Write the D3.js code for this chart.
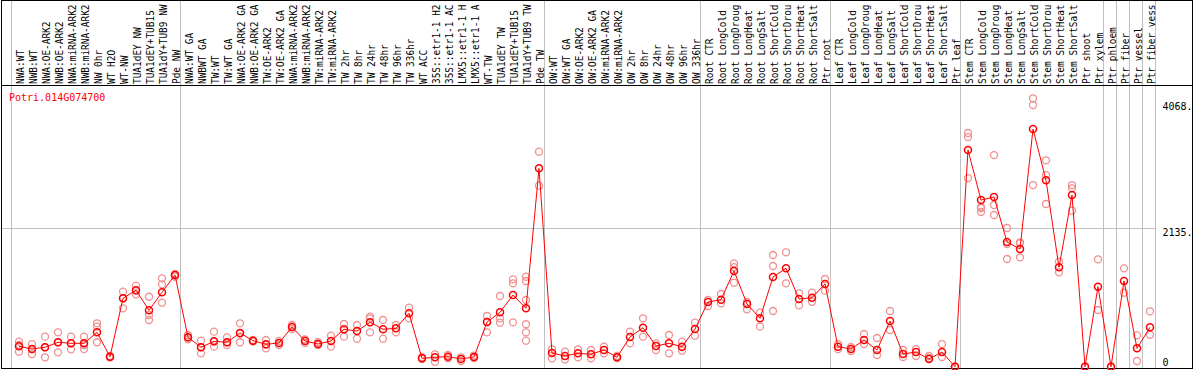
<!DOCTYPE html>
<html lang="en">
<head>
  <meta charset="UTF-8" />
  <title>Potri.014G074700 expression</title>
  <script src="https://cdnjs.cloudflare.com/ajax/libs/d3/7.8.2/d3.min.js"></script>
  <style>
    body { margin: 0; padding: 0; background: #fff; }
    svg { display: block; }
    .lbl { font-family: "DejaVu Sans Mono", monospace; font-size: 10.5px; fill: #000; }
    .axis text { font-family: "DejaVu Sans Mono", monospace; font-size: 10px; fill: #000; }
  </style>
</head>
<body>
<svg id="chart"></svg>
<script>
// ---- data ----
const geneName = "Potri.014G074700";

// sample names as printed (the chart cuts them at 14 characters)
const samples = [
  "NWA:WT", "NWB:WT", "NWA:OE-ARK2", "NWB:OE-ARK2", "NWA:miRNA-ARK2", "NWB:miRNA-ARK2",
  "NW 0hr", "WT H2O", "WT-NW", "TUA1dEY NW", "TUA1dEY+TUB15", "TUA1dY+TUB9 NW", "Pde NW",
  "NWA:WT GA", "NWBWT GA", "TW:WT", "TW:WT GA", "NWA:OE-ARK2 GA", "NWB:OE-ARK2 GA",
  "TW:OE-ARK2", "TW:OE-ARK2 GA", "NWA:miRNA-ARK2", "NWB:miRNA-ARK2", "TW:miRNA-ARK2",
  "TW:miRNA-ARK2", "TW 2hr", "TW 8hr", "TW 24hr", "TW 48hr", "TW 96hr", "TW 336hr", "WT ACC",
  "35S::etr1-1 H2", "35S::etr1-1 AC", "LMX5::etr1-1 H", "LMX5::etr1-1 A", "WT-TW",
  "TUA1dEY TW", "TUA1dEY+TUB15", "TUA1dY+TUB9 TW", "Pde TW",
  "OW:WT", "OW:WT GA", "OW:OE-ARK2", "OW:OE-ARK2 GA", "OW:miRNA-ARK2", "OW:miRNA-ARK2",
  "OW 2hr", "OW 8hr", "OW 24hr", "OW 48hr", "OW 96hr", "OW 336hr",
  "Root CTR", "Root LongCold", "Root LongDroug", "Root LongHeat", "Root LongSalt",
  "Root ShortCold", "Root ShortDrou", "Root ShortHeat", "Root ShortSalt", "Ptr root",
  "Leaf CTR", "Leaf LongCold", "Leaf LongDroug", "Leaf LongHeat", "Leaf LongSalt",
  "Leaf ShortCold", "Leaf ShortDrou", "Leaf ShortHeat", "Leaf ShortSalt", "Ptr leaf",
  "Stem CTR", "Stem LongCold", "Stem LongDroug", "Stem LongHeat", "Stem LongSalt",
  "Stem ShortCold", "Stem ShortDrou", "Stem ShortHeat", "Stem ShortSalt", "Ptr shoot", "Ptr xylem",
  "Ptr phloem", "Ptr fiber", "Ptr vessel", "Ptr fiber vess"
];

// last sample index of each group (a grey separator follows it)
const groupEnds = [12, 40, 52, 62, 72, 83, 84, 85, 86, 87];

const means = [
  314, 272, 299, 376, 360, 360, 529, 154, 1053, 1176, 868, 1145, 1411,
  452, 299, 391, 376, 519, 400, 345, 365, 611, 396, 349, 396, 576, 549, 683, 576, 591, 822,
  129, 145, 154, 119, 149, 688, 837, 1103, 899, 3053,
  211, 165, 206, 191, 257, 145, 457, 600, 319, 360, 308, 580,
  996, 1031, 1473, 965, 745, 1380, 1514, 1042, 1062, 1273,
  308, 272, 411, 257, 703, 195, 226, 119, 226, 0,
  3335, 2565, 2612, 1919, 1811, 3658, 2869, 1530, 2642, 0, 1231,
  0, 1319, 283, 606
];

const replicates = [
  [385, 334, 231], [349, 272, 195], [462, 299, 145], [529, 376, 222], [462, 360, 268],
  [462, 334, 272], [668, 616, 376], [165, 149, 142], [1154, 1053, 899], [1247, 1176, 1114],
  [1077, 796, 719], [1360, 1268, 985], [1427, 1385, 1411],
  [488, 422, 449], [400, 299, 206], [539, 308, 388], [452, 376, 334], [668, 376, 511],
  [411, 388, 403], [411, 283, 342], [396, 334], [642, 580], [419, 365], [376, 334],
  [477, 308], [657, 462], [642, 431], [770, 745, 529], [719, 431], [642, 529], [908, 745],
  [149, 119], [191, 77], [180, 129], [145, 88], [172, 134], [780, 688, 529],
  [1088, 745, 677], [1345, 1284, 683], [1385, 1319, 1027, 653, 529, 400], [3309, 2786],
  [268, 129], [231, 114], [268, 145], [257, 129], [308, 206], [165, 134], [539, 360],
  [745, 462], [360, 257], [488, 206], [385, 246], [677, 477],
  [934, 1027], [1119, 976], [1591, 1293, 1534], [883, 996], [831, 616], [1719, 1550, 857],
  [1761, 1284], [1130, 945], [1139, 1000], [1350, 1170],
  [349, 272], [303, 242], [503, 349], [442, 180], [857, 565], [257, 149], [272, 165],
  [165, 134], [349, 149], [0, 0],
  [3597, 3535, 2903], [2458, 2381, 2443], [3258, 2489, 2335], [2135, 1888, 1658],
  [1915, 1899, 1684], [4131, 4028, 2796], [3177, 2950, 2504], [1616, 1453],
  [2796, 2746, 2401], [0, 0], [1653, 873],
  [0, 0], [1514, 1139], [483, 88], [853, 492]
];

const yTicks = [0, 2135, 4068];
const yTickLabels = ["0", "2135.", "4068."];

// ---- layout ----
const W = 1194, H = 370;
const headerBottom = 85;
const plotLeft = 11.5, colW = 13;
const plotRight = plotLeft + colW * samples.length;

const svg = d3.select("#chart").attr("width", W).attr("height", H);

const x = d3.scaleBand()
  .domain(d3.range(samples.length))
  .range([plotLeft, plotRight])
  .padding(0);
const cx = i => x(i) + 7.5;

const y = d3.scaleLinear()
  .domain([0, 4068])
  .range([366.7, 102.4]);

// grid: vertical separators
const sepX = [plotLeft].concat(groupEnds.map(i => x(i) + x.bandwidth()));
svg.append("g")
  .selectAll("line")
  .data(sepX)
  .join("line")
  .attr("x1", d => d).attr("x2", d => d)
  .attr("y1", 0).attr("y2", 368)
  .attr("stroke", "#c0c0c0").attr("stroke-width", 1);

// horizontal grid at mid tick
svg.append("line")
  .attr("x1", 1).attr("x2", plotRight)
  .attr("y1", Math.round(y(2135)) + 0.5).attr("y2", Math.round(y(2135)) + 0.5)
  .attr("stroke", "#c0c0c0").attr("stroke-width", 1);

// header labels (vertical, slightly condensed)
svg.append("g")
  .selectAll("text")
  .data(samples)
  .join("text")
  .attr("class", "lbl")
  .attr("transform", (d, i) => `translate(${cx(i) + 4.5},84) rotate(-90) scale(0.9,1)`)
  .attr("text-anchor", "start")
  .text(d => d);

// header bottom line and outer frame
svg.append("line")
  .attr("x1", 1).attr("x2", 1193)
  .attr("y1", headerBottom + 0.5).attr("y2", headerBottom + 0.5)
  .attr("stroke", "#000");

svg.append("rect")
  .attr("x", 1.5).attr("y", 0.5)
  .attr("width", 1191).attr("height", 368)
  .attr("fill", "none").attr("stroke", "#000");

// gene name
svg.append("text")
  .attr("x", 9).attr("y", 101)
  .attr("fill", "#ff0000")
  .style("font-family", "'DejaVu Sans Mono', monospace")
  .style("font-size", "10px")
  .text(geneName);

// y axis on the right
const axis = svg.append("g")
  .attr("class", "axis")
  .attr("transform", `translate(${plotRight},0)`)
  .call(d3.axisRight(y)
    .tickValues(yTicks)
    .tickSize(0)
    .tickPadding(7)
    .tickFormat((d, i) => yTickLabels[i]));
axis.select(".domain").remove();
axis.selectAll("text")
  .attr("dy", d => d === 0 ? "-0.15em" : "0.75em");

// replicate points
const repPts = [];
replicates.forEach((r, i) => r.forEach(v => repPts.push({ i, v })));
svg.append("g")
  .selectAll("circle")
  .data(repPts)
  .join("circle")
  .attr("cx", d => cx(d.i))
  .attr("cy", d => y(d.v))
  .attr("r", 3.5)
  .attr("fill", "none")
  .attr("stroke", "#f09090")
  .attr("stroke-width", 1.3);

// mean line
const line = d3.line()
  .x((d, i) => cx(i))
  .y(d => y(d));
svg.append("path")
  .datum(means)
  .attr("d", line)
  .attr("fill", "none")
  .attr("stroke", "#ff0000")
  .attr("stroke-width", 1);

// mean points
svg.append("g")
  .selectAll("circle")
  .data(means)
  .join("circle")
  .attr("cx", (d, i) => cx(i))
  .attr("cy", d => y(d))
  .attr("r", 3.5)
  .attr("fill", "none")
  .attr("stroke", "#ff0000")
  .attr("stroke-width", 1.5);
</script>
</body>
</html>
